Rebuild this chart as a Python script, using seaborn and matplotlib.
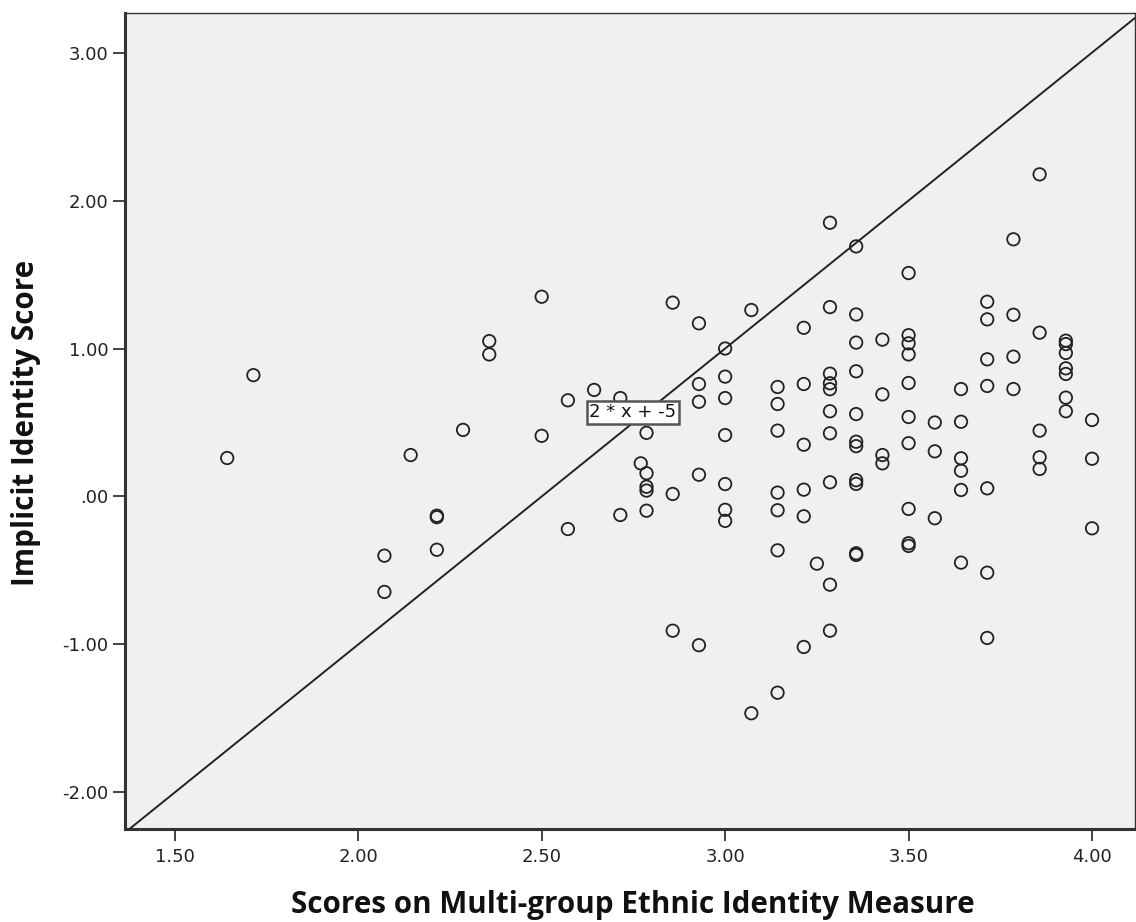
import matplotlib
matplotlib.use("Agg")
import matplotlib.pyplot as plt
import seaborn as sns
import pandas as pd

# Mean MEIM score (x) and implicit identity score (y) for each participant
meim_scores = [
    1.6429,
    1.7143,
    2.0714, 2.0714,
    2.1429,
    2.2143, 2.2143, 2.2143,
    2.2857,
    2.3571, 2.3571,
    2.5, 2.5,
    2.5714, 2.5714,
    2.6429,
    2.7143, 2.7143,
    2.77,
    2.7857, 2.7857, 2.7857, 2.7857, 2.7857,
    2.8571, 2.8571, 2.8571,
    2.9286, 2.9286, 2.9286, 2.9286, 2.9286,
    3.0, 3.0, 3.0, 3.0, 3.0, 3.0, 3.0,
    3.0714, 3.0714,
    3.1429, 3.1429, 3.1429, 3.1429, 3.1429, 3.1429, 3.1429,
    3.2143, 3.2143, 3.2143, 3.2143, 3.2143, 3.2143,
    3.25,
    3.2857, 3.2857, 3.2857, 3.2857, 3.2857, 3.2857, 3.2857, 3.2857, 3.2857, 3.2857,
    3.3571, 3.3571, 3.3571, 3.3571, 3.3571, 3.3571, 3.3571, 3.3571, 3.3571, 3.3571, 3.3571,
    3.4286, 3.4286, 3.4286, 3.4286,
    3.5, 3.5, 3.5, 3.5, 3.5, 3.5, 3.5, 3.5, 3.5, 3.5,
    3.5714, 3.5714, 3.5714,
    3.6429, 3.6429, 3.6429, 3.6429, 3.6429, 3.6429,
    3.7143, 3.7143, 3.7143, 3.7143, 3.7143, 3.7143, 3.7143,
    3.7857, 3.7857, 3.7857, 3.7857,
    3.8571, 3.8571, 3.8571, 3.8571, 3.8571,
    3.9286, 3.9286, 3.9286, 3.9286, 3.9286, 3.9286, 3.9286,
    4.0, 4.0, 4.0,
]
implicit_scores = [
    0.26,
    0.82,
    -0.40, -0.645,
    0.28,
    -0.14, -0.13, -0.36,
    0.45,
    1.05, 0.96,
    1.35, 0.41,
    0.65, -0.22,
    0.72,
    0.665, -0.125,
    0.224,
    0.43, 0.157, 0.066, 0.04, -0.096,
    1.31, 0.017, -0.907,
    1.17, 0.76, 0.64, 0.147, -1.005,
    1.00, 0.81, 0.665, 0.415, 0.084, -0.09, -0.165,
    1.26, -1.465,
    0.74, 0.625, 0.445, 0.026, -0.093, -0.364, -1.326,
    1.14, 0.76, 0.35, 0.046, -0.134, -1.017,
    -0.454,
    1.85, 1.28, 0.83, 0.765, 0.725, 0.576, 0.427, 0.096, -0.596, -0.907,
    1.69, 1.23, 1.04, 0.846, 0.557, 0.37, 0.34, 0.11, 0.085, -0.384, -0.395,
    1.06, 0.69, 0.28, 0.224,
    1.51, 1.09, 1.035, 0.96, 0.767, 0.537, 0.36, -0.084, -0.316, -0.334,
    0.50, 0.305, -0.147,
    0.726, 0.505, 0.258, 0.174, 0.044, -0.447,
    1.316, 1.197, 0.927, 0.747, 0.055, -0.515, -0.956,
    1.738, 1.228, 0.945, 0.726,
    2.177, 1.107, 0.445, 0.265, 0.186,
    1.053, 1.03, 0.97, 0.866, 0.828, 0.668, 0.576,
    0.517, 0.255, -0.215,
]

# Reference line y = slope * x + intercept
line_slope = 2
line_intercept = -5
line_label = "2 * x + -5"

x_ticks = [1.5, 2.0, 2.5, 3.0, 3.5, 4.0]
x_tick_labels = ["1.50", "2.00", "2.50", "3.00", "3.50", "4.00"]
y_ticks = [-2.0, -1.0, 0.0, 1.0, 2.0, 3.0]
y_tick_labels = ["-2.00", "-1.00", ".00", "1.00", "2.00", "3.00"]

df = pd.DataFrame({"meim": meim_scores, "implicit": implicit_scores})

sns.set_style("ticks")
plt.rcParams["font.family"] = ["DejaVu Sans"]

fig = plt.figure(figsize=(11.36, 9.22), dpi=100)
ax = fig.add_axes([0.1096, 0.1009, 0.8895, 0.8851])
ax.set_facecolor("#f0f0f0")

sns.scatterplot(
    data=df, x="meim", y="implicit", ax=ax,
    marker="o", s=80, facecolors="none", edgecolor="#222222", linewidth=1.3,
    zorder=3,
)

ax.axline((0, line_intercept), slope=line_slope, color="#222222", lw=1.4, zorder=2)

ax.text(
    2.749, 0.568, line_label, ha="center", va="center", fontsize=13,
    color="#111111", zorder=5,
    bbox=dict(boxstyle="square,pad=0.15", fc="white", ec="#555555", lw=1.8),
)

ax.set_xlim(1.363, 4.117)
ax.set_ylim(-2.247, 3.268)
ax.set_xticks(x_ticks)
ax.set_xticklabels(x_tick_labels)
ax.set_yticks(y_ticks)
ax.set_yticklabels(y_tick_labels)
ax.tick_params(axis="both", direction="out", length=8.5, width=1.3,
               color="#333333", labelsize=13, labelcolor="#222222")
ax.tick_params(axis="x", pad=5)
ax.tick_params(axis="y", pad=3)

for side in ["left", "bottom"]:
    ax.spines[side].set_linewidth(2.2)
    ax.spines[side].set_color("#333333")
for side in ["top", "right"]:
    ax.spines[side].set_visible(True)
    ax.spines[side].set_linewidth(1.0)
    ax.spines[side].set_color("#333333")

label_font = dict(family=["Open Sans", "DejaVu Sans"], size=21.3, weight="bold",
                  color="#111111")
ax.set_xlabel("Scores on Multi-group Ethnic Identity Measure", **label_font)
ax.set_ylabel("Implicit Identity Score", **label_font)
ax.xaxis.set_label_coords(0.503, -0.1029)
ax.xaxis.label.set_va("baseline")
ax.yaxis.set_label_coords(-0.097, 0.4975)
ax.yaxis.label.set_va("center")

fig.savefig("out.png", dpi=100, facecolor="white")
